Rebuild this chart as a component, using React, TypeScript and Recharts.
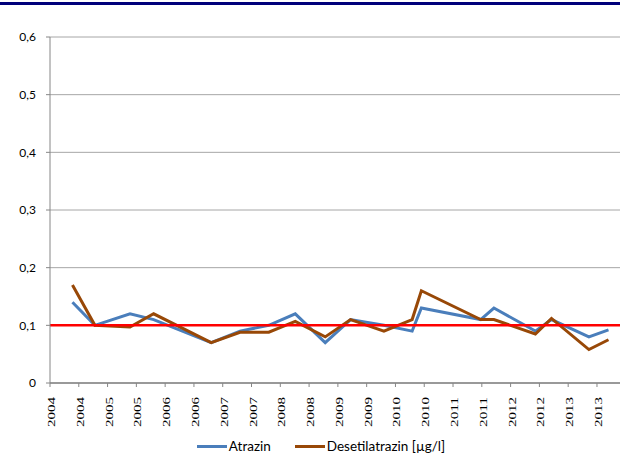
import { LineChart, Line, XAxis, YAxis, CartesianGrid, ReferenceLine, Legend } from "recharts";

// sampling dates as decimal years (two samples per year, roughly May and October)
const sampleDates = [
  2004.39, 2004.78, 2005.39, 2005.8, 2006.8, 2007.3, 2007.8, 2008.26, 2008.78, 2009.22,
  2009.8, 2010.29, 2010.45, 2011.48, 2011.71, 2012.43, 2012.71, 2013.36, 2013.7,
];
const atrazin = [
  0.14, 0.1, 0.12, 0.11, 0.07, 0.09, 0.1, 0.12, 0.07, 0.11,
  0.1, 0.09, 0.13, 0.11, 0.13, 0.09, 0.11, 0.08, 0.092,
];
const desetilatrazin = [
  0.17, 0.1, 0.097, 0.12, 0.07, 0.088, 0.088, 0.107, 0.08, 0.11,
  0.09, 0.11, 0.16, 0.11, 0.11, 0.085, 0.112, 0.058, 0.075,
];
const xTicks = [
  2004, 2004.5, 2005, 2005.5, 2006, 2006.5, 2007, 2007.5, 2008, 2008.5,
  2009, 2009.5, 2010, 2010.5, 2011, 2011.5, 2012, 2012.5, 2013, 2013.5,
];
const xLabels = [
  "2004", "2004", "2005", "2005", "2006", "2006", "2007", "2007", "2008", "2008",
  "2009", "2009", "2010", "2010", "2011", "2011", "2012", "2012", "2013", "2013",
];
const yTicks = [0, 0.1, 0.2, 0.3, 0.4, 0.5, 0.6];
const yLabels = ["0", "0,1", "0,2", "0,3", "0,4", "0,5", "0,6"];
const limit = 0.1;

const BLUE = "#4A7EBB";
const BROWN = "#984807";

const data = sampleDates.map((d, i) => ({
  date: d,
  atrazin: atrazin[i],
  desetil: desetilatrazin[i],
}));

// Excel-style vertical year labels (stretched a bit, like the original export)
function YearTick({ x, y, payload }: any) {
  const i = xTicks.indexOf(payload.value);
  return (
    <text
      x={0}
      y={0}
      transform={`translate(${x + 5},${y + 8}) rotate(-90)`}
      textAnchor="end"
      fontFamily="Liberation Serif"
      fontSize={11}
      fill="#000"
      textLength={30}
      lengthAdjust="spacingAndGlyphs"
    >
      {xLabels[i] ?? ""}
    </text>
  );
}

function LegendContent() {
  const item = (color: string, label: string, gap: number) => (
    <span style={{ display: "inline-flex", alignItems: "center", marginRight: gap }}>
      <span style={{ display: "inline-block", width: 30, height: 3, background: color, marginRight: 2 }} />
      <span>{label}</span>
    </span>
  );
  return (
    <div
      style={{
        height: 39,
        display: "flex",
        justifyContent: "center",
        alignItems: "flex-start",
        paddingTop: 5,
        boxSizing: "border-box",
        fontFamily: "Lato",
        fontSize: 13.5,
        color: "#000",
        paddingLeft: 22,
      }}
    >
      {item(BLUE, "Atrazin", 24)}
      {item(BROWN, "Desetilatrazin [µg/l]", 0)}
    </div>
  );
}

export default function App() {
  return (
    <div style={{ position: "absolute", left: 0, top: 0, width: 620, height: 472, background: "#fff", overflow: "hidden" }}>
      <div style={{ position: "absolute", left: 0, top: 2, width: 620, height: 3, background: "#00007A" }} />
      <LineChart width={620} height={472} data={data} margin={{ top: 37, right: 0, bottom: 0, left: 0 }}>
        <CartesianGrid vertical={false} stroke="#A6A6A6" />
        <XAxis
          dataKey="date"
          type="number"
          domain={[2004, 2013.9]}
          ticks={xTicks}
          interval={0}
          height={50}
          tick={<YearTick />}
          tickSize={4}
          axisLine={{ stroke: "#868686", strokeWidth: 1.5 }}
          tickLine={{ stroke: "#868686" }}
        />
        <YAxis
          type="number"
          domain={[0, 0.6]}
          ticks={yTicks}
          width={50}
          tickSize={4}
          tickMargin={10}
          tickFormatter={(v: number) => yLabels[yTicks.indexOf(v)] ?? ""}
          tick={{ fill: "#000", fontSize: 12, fontFamily: "Lato" }}
          axisLine={{ stroke: "#868686" }}
          tickLine={{ stroke: "#868686" }}
        />
        <Legend verticalAlign="bottom" content={<LegendContent />} />
        <Line
          dataKey="atrazin"
          name="Atrazin"
          stroke={BLUE}
          strokeWidth={3}
          dot={false}
          type="linear"
          isAnimationActive={false}
        />
        <Line
          dataKey="desetil"
          name="Desetilatrazin [µg/l]"
          stroke={BROWN}
          strokeWidth={3}
          dot={false}
          type="linear"
          isAnimationActive={false}
        />
        <ReferenceLine y={limit} stroke="#FF0000" strokeWidth={2.5} />
      </LineChart>
    </div>
  );
}
